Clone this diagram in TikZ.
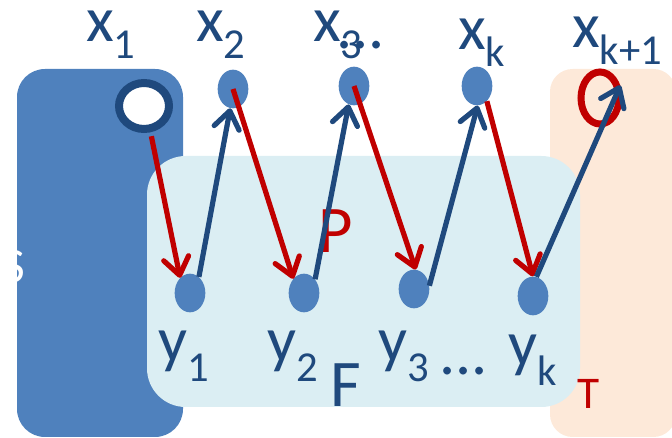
\documentclass[tikz,border=0pt]{standalone}
\usepackage{fontspec}
\setmainfont{Carlito}
\usetikzlibrary{shapes.geometric,arrows.meta}

\definecolor{setblue}{HTML}{4F81BD}
\definecolor{darkblue}{HTML}{1F497D}
\definecolor{flowred}{HTML}{C00000}
\definecolor{sinkpeach}{HTML}{FDE9D9}
\definecolor{paleblue}{HTML}{DBEEF3}

% label with a lowered subscript
\newcommand{\vlab}[3][12.75pt]{#2\raisebox{-#1}{\fontsize{32}{32}\selectfont #3}}

\tikzset{
  vertex/.style={ellipse, fill=setblue, minimum width=23pt, minimum height=29pt, inner sep=0pt},
  lbl/.style={anchor=base west, inner sep=0pt, text=darkblue, font=\fontsize{48}{48}\selectfont},
  redflow/.style={flowred, line width=3.9pt, -{Straight Barb[length=13pt, width=19pt, round]}},
  blueflow/.style={darkblue, line width=3.9pt, -{Straight Barb[length=13pt, width=19pt, round]}}
}

\begin{document}
\begin{tikzpicture}[x=0.75pt, y=-0.75pt]
        \useasboundingbox (0,0) rectangle (672,438);

        % Sets S, T and F
        \fill[setblue, rounded corners=21pt] (17,69) rectangle (183,437);
        \fill[sinkpeach, rounded corners=17pt] (550,69) rectangle (676,437);
        \fill[paleblue, rounded corners=29pt] (147,156) rectangle (580,407);
        \node[anchor=base west, inner sep=0pt, text=white, font=\fontsize{37}{37}\selectfont] (setS) at (2,283) {S};
        \node[lbl, font=\fontsize{50}{50}\selectfont] (setF) at (330,407) {F};
        \node[anchor=base west, inner sep=0pt, text=flowred, font=\fontsize{34}{34}\selectfont] (setT) at (577,409) {T};
        \node[anchor=base west, inner sep=0pt, text=flowred, font=\fontsize{50}{50}\selectfont] (pathP) at (318,253) {P};

        % Top row
        \node[ellipse, draw=darkblue, fill=white, line width=6pt, minimum width=37.5pt, minimum height=34.5pt, inner sep=0pt] (x1) at (144,106) {};
        \node[vertex] (x2) at (233,89) {};
        \node[vertex] (x3) at (354,86) {};
        \node[vertex] (xk) at (477,86) {};
        \node[ellipse, draw=flowred, line width=5.25pt, minimum width=28.5pt, minimum height=39pt, inner sep=0pt] (xk1) at (600,98) {};

        % Bottom row
        \node[vertex] (y1) at (190,293) {};
        \node[vertex] (y2) at (304,293) {};
        \node[vertex] (y3) at (414,289) {};
        \node[vertex] (yk) at (533,296) {};

        % Labels
        \node[lbl] (lx1) at (86,42) {\vlab{x}{1}};
        \node[lbl] (lx2) at (196,42) {\vlab{x}{2}};
        \node[lbl] (lx3) at (313,42) {\vlab{x}{3}};
        \node[lbl] (dx3) at (336,49) {...};
        \node[lbl] (lxk) at (458,50) {\vlab{x}{k}};
        \node[lbl] (lxk1) at (572,48) {\vlab{x}{k+1}};
        \node[lbl] (ly1) at (158,362) {\vlab[15pt]{y}{1}};
        \node[lbl] (ly2) at (267,362) {\vlab[15pt]{y}{2}};
        \node[lbl] (ly3) at (378,362) {\vlab[15pt]{y}{3}};
        \node[lbl] (dy3) at (439,375) {...};
        \node[lbl] (lyk) at (508,366) {\vlab[15pt]{y}{k}};

        % Alternating path
        \draw[redflow, shorten <=3pt] (x1.-76) -- (y1.123);
        \draw[redflow] (x2.center) -- (y2.127);
        \draw[redflow] (x3.center) -- (y3.85);
        \draw[redflow] (xk.-57) -- (yk.north);
        \draw[blueflow] (y1.61) -- (x2.-98);
        \draw[blueflow] (y2.51) -- (x3.-106);
        \draw[blueflow] (y3.12) -- (xk.-88);
        \draw[blueflow] (yk.80) -- (xk1.32);
    \end{tikzpicture}
\end{document}
